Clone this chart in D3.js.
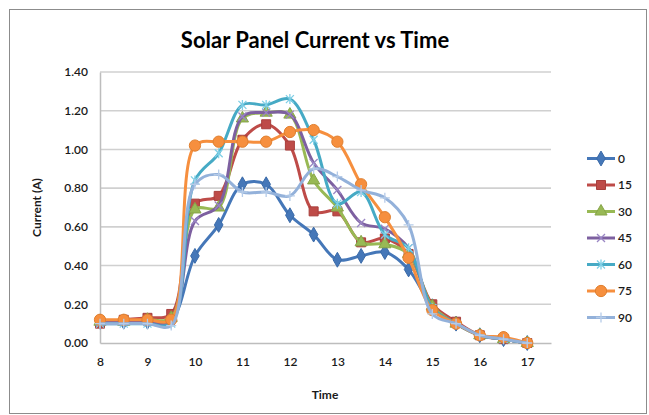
<!DOCTYPE html>
<html>
<head>
<meta charset="utf-8">
<script src="https://cdn.jsdelivr.net/npm/d3@7"></script>
<style>
  html, body { margin: 0; padding: 0; background: #fff; }
  svg { display: block; }
  text { font-family: Lato, "Liberation Sans", sans-serif; }
</style>
</head>
<body>
<svg id="chart" width="649" height="415"></svg>
<script>
// Time of day (hours)
const times = [8, 8.5, 9, 9.5, 10, 10.5, 11, 11.5, 12, 12.5, 13, 13.5, 14, 14.5, 15, 15.5, 16, 16.5, 17];

// Panel current (A) at each tilt angle
const angle0  = [0.11, 0.11, 0.11, 0.12, 0.45, 0.61, 0.82, 0.82, 0.66, 0.56, 0.43, 0.45, 0.47, 0.38, 0.19, 0.10, 0.04, 0.02, 0.00];
const angle15 = [0.10, 0.12, 0.13, 0.15, 0.72, 0.76, 1.05, 1.13, 1.02, 0.68, 0.68, 0.52, 0.54, 0.46, 0.20, 0.11, 0.04, 0.02, 0.00];
const angle30 = [0.11, 0.11, 0.12, 0.13, 0.69, 0.70, 1.16, 1.19, 1.18, 0.84, 0.70, 0.52, 0.51, 0.46, 0.19, 0.10, 0.04, 0.02, 0.00];
const angle45 = [0.11, 0.11, 0.11, 0.11, 0.63, 0.71, 1.17, 1.19, 1.18, 0.93, 0.79, 0.62, 0.59, 0.49, 0.18, 0.10, 0.04, 0.02, 0.00];
const angle60 = [0.10, 0.10, 0.10, 0.10, 0.84, 0.98, 1.23, 1.23, 1.26, 1.05, 0.72, 0.78, 0.56, 0.49, 0.18, 0.10, 0.04, 0.02, 0.00];
const angle75 = [0.12, 0.12, 0.12, 0.12, 1.02, 1.04, 1.04, 1.04, 1.09, 1.10, 1.04, 0.82, 0.65, 0.44, 0.17, 0.10, 0.04, 0.03, 0.00];
const angle90 = [0.10, 0.10, 0.10, 0.09, 0.82, 0.87, 0.78, 0.78, 0.76, 0.90, 0.86, 0.79, 0.75, 0.61, 0.15, 0.10, 0.04, 0.02, 0.00];

const seriesNames = ["0", "15", "30", "45", "60", "75", "90"];
const seriesValues = [angle0, angle15, angle30, angle45, angle60, angle75, angle90];

const xTicks = [8, 9, 10, 11, 12, 13, 14, 15, 16, 17];
const yTicks = [0, 0.2, 0.4, 0.6, 0.8, 1.0, 1.2, 1.4];

const colors = ["#4577b8", "#be4b48", "#98b954", "#7d60a0", "#46aac5", "#f68f3e", "#93b1da"];
const markerStroke = ["#3a6aa8", "#a83f3c", "#86a548", "#9a86c4", "#7fcfe6", "#e07f2e", "#b5cbe8"];
const markers = ["diamond", "square", "triangle", "x", "star", "circle", "plus"];

const svg = d3.select("#chart");

// chart frame
svg.append("rect")
  .attr("x", 9.5).attr("y", 9.5)
  .attr("width", 637).attr("height", 404)
  .attr("fill", "#fff")
  .attr("stroke", "#8c8c8c").attr("stroke-width", 1);

const plot = { left: 100, right: 551, top: 72, bottom: 343 };

const x = d3.scaleLinear().domain([8, 17.5]).range([plot.left, plot.right]);
const y = d3.scaleLinear().domain([0, 1.4]).range([plot.bottom, plot.top]);

// horizontal gridlines
svg.append("g")
  .selectAll("line")
  .data(yTicks.filter(d => d > 0))
  .join("line")
  .attr("x1", plot.left).attr("x2", plot.right)
  .attr("y1", d => y(d)).attr("y2", d => y(d))
  .attr("stroke", "#d0d0d0").attr("stroke-width", 1.6);

// y axis
const yAxis = svg.append("g")
  .attr("transform", `translate(${plot.left},0)`)
  .call(d3.axisLeft(y).tickValues(yTicks).tickFormat(d3.format(".2f")).tickSize(0).tickPadding(12));
yAxis.select(".domain").attr("stroke", "#bdbdbd").attr("stroke-width", 1.5);
yAxis.selectAll("text").attr("font-size", 12).attr("fill", "#1a1a1a")
  .attr("font-weight", 600)
  .attr("font-family", "Lato, sans-serif");

// x axis
const xAxis = svg.append("g")
  .attr("transform", `translate(0,${plot.bottom})`)
  .call(d3.axisBottom(x).tickValues(xTicks).tickFormat(d3.format("d")).tickSize(0).tickPadding(14));
xAxis.select(".domain").attr("stroke", "#bdbdbd").attr("stroke-width", 1.6);
xAxis.selectAll("text").attr("font-size", 12).attr("fill", "#1a1a1a")
  .attr("font-weight", 600)
  .attr("font-family", "Lato, sans-serif");

// titles
svg.append("text")
  .attr("x", 315).attr("y", 48)
  .attr("text-anchor", "middle")
  .attr("font-size", 22).attr("font-weight", 700).attr("fill", "#000")
  .text("Solar Panel Current vs Time");

svg.append("text")
  .attr("x", 325).attr("y", 399)
  .attr("text-anchor", "middle")
  .attr("font-size", 12).attr("font-weight", 700).attr("fill", "#1a1a1a")
  .text("Time");

svg.append("text")
  .attr("transform", `translate(41,${(plot.top + plot.bottom) / 2}) rotate(-90)`)
  .attr("text-anchor", "middle")
  .attr("font-size", 12).attr("font-weight", 700).attr("fill", "#1a1a1a")
  .text("Current (A)");

// marker shapes
function markerPath(kind) {
  switch (kind) {
    case "diamond": return d3.symbol(d3.symbolDiamond, 64)();
    case "square": return d3.symbol(d3.symbolSquare, 81)();
    case "triangle": return d3.symbol(d3.symbolTriangle, 64)();
    case "circle": return d3.symbol(d3.symbolCircle, 100)();
    case "x": return "M-4,-4L4,4M-4,4L4,-4";
    case "star": return "M-4,-4L4,4M-4,4L4,-4M0,-5L0,5";
    case "plus": return "M-5,0L5,0M0,-5L0,5";
  }
}
const lineMarker = k => k === "x" || k === "star" || k === "plus";

const line = d3.line()
  .x((d, i) => x(times[i]))
  .y(d => y(d))
  .curve(d3.curveCatmullRom.alpha(0.5));

seriesValues.forEach((vals, s) => {
  const g = svg.append("g");
  g.append("path")
    .attr("d", line(vals))
    .attr("fill", "none")
    .attr("stroke", colors[s])
    .attr("stroke-width", 3)
    .attr("stroke-linejoin", "round")
    .attr("stroke-linecap", "round");
  g.selectAll("path.m")
    .data(vals)
    .join("path")
    .attr("class", "m")
    .attr("transform", (d, i) => `translate(${x(times[i])},${y(d)})`)
    .attr("d", markerPath(markers[s]))
    .attr("fill", lineMarker(markers[s]) ? "none" : colors[s])
    .attr("stroke", markerStroke[s])
    .attr("stroke-width", lineMarker(markers[s]) ? 1.3 : 1);
});

// legend
const legend = svg.append("g");
seriesNames.forEach((name, s) => {
  const ly = 158.5 + s * 26.5;
  legend.append("line")
    .attr("x1", 587).attr("x2", 615)
    .attr("y1", ly).attr("y2", ly)
    .attr("stroke", colors[s]).attr("stroke-width", 3);
  legend.append("path")
    .attr("transform", `translate(601,${ly})`)
    .attr("d", markerPath(markers[s]))
    .attr("fill", lineMarker(markers[s]) ? "none" : colors[s])
    .attr("stroke", markerStroke[s])
    .attr("stroke-width", lineMarker(markers[s]) ? 1.3 : 1);
  legend.append("text")
    .attr("x", 618).attr("y", ly)
    .attr("dy", "0.36em")
    .attr("font-size", 12).attr("font-weight", 600).attr("fill", "#1a1a1a")
    .text(name);
});
</script>
</body>
</html>
